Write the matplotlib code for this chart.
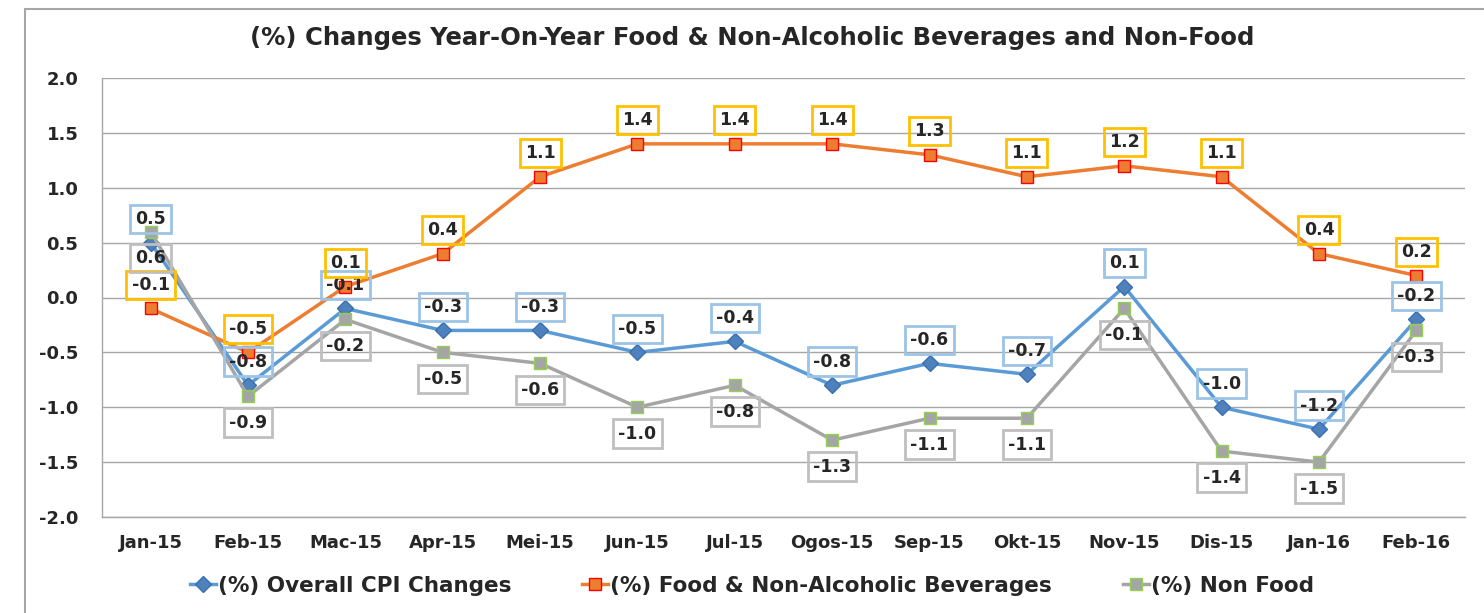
import matplotlib.pyplot as plt
from matplotlib.patches import Rectangle

plt.rcParams['font.family'] = ['DejaVu Sans']

months = ["Jan-15", "Feb-15", "Mac-15", "Apr-15", "Mei-15", "Jun-15", "Jul-15",
          "Ogos-15", "Sep-15", "Okt-15", "Nov-15", "Dis-15", "Jan-16", "Feb-16"]
overall = [0.5, -0.8, -0.1, -0.3, -0.3, -0.5, -0.4, -0.8, -0.6, -0.7, 0.1, -1.0, -1.2, -0.2]
food = [-0.1, -0.5, 0.1, 0.4, 1.1, 1.4, 1.4, 1.4, 1.3, 1.1, 1.2, 1.1, 0.4, 0.2]
non_food = [0.6, -0.9, -0.2, -0.5, -0.6, -1.0, -0.8, -1.3, -1.1, -1.1, -0.1, -1.4, -1.5, -0.3]
yticks = [-2.0, -1.5, -1.0, -0.5, 0.0, 0.5, 1.0, 1.5, 2.0]

fig = plt.figure(figsize=(14.84, 6.13), dpi=100)
ax = fig.add_axes([102 / 1484, 1 - 517 / 613, 1363 / 1484, 439 / 613])

# outer chart border (only top and left edges fall inside the picture)
fig.patches.append(Rectangle((25 / 1484, -0.1), 1.2, 1.1 - 9 / 613,
                             transform=fig.transFigure, fill=False,
                             edgecolor="#A6A6A6", linewidth=1.5))

x = list(range(len(months)))

ax.plot(x, overall, color="#5B9BD5", linewidth=2.5, marker="D", markersize=8,
        markerfacecolor="#4F81BD", markeredgecolor="#3A6FAF", zorder=3,
        label="(%) Overall CPI Changes")
ax.plot(x, food, color="#ED7D31", linewidth=2.5, marker="s", markersize=9,
        markerfacecolor="#ED7D31", markeredgecolor="#FF0000", zorder=3,
        label="(%) Food & Non-Alcoholic Beverages")
ax.plot(x, non_food, color="#A5A5A5", linewidth=2.5, marker="s", markersize=9,
        markerfacecolor="#A5A5A5", markeredgecolor="#92D050", zorder=4,
        label="(%) Non Food")


def add_labels(values, edge, dy):
    for i, v in enumerate(values):
        ax.annotate(f"{v:.1f}", (i, v), textcoords="offset points", xytext=(0, dy),
                    ha="center", va="center", fontsize=12.5, fontweight="bold",
                    color="#262626", zorder=6,
                    bbox=dict(boxstyle="square,pad=0.3", fc="none", ec=edge, lw=2))


add_labels(overall, "#9DC3E6", 17)
add_labels(food, "#FFC000", 17)
add_labels(non_food, "#BFBFBF", -19)

ax.set_xlim(-0.5, len(months) - 0.5)
ax.set_ylim(-2.0, 2.0)
ax.set_yticks(yticks)
ax.set_yticklabels([f"{t:.1f}" for t in yticks])
ax.set_xticks(x)
ax.set_xticklabels(months)
ax.grid(axis="y", color="#A6A6A6", linewidth=1)
ax.set_axisbelow(True)
for side in ["top", "right"]:
    ax.spines[side].set_visible(False)
for side in ["left", "bottom"]:
    ax.spines[side].set_color("#A6A6A6")
    ax.spines[side].set_linewidth(1)
ax.tick_params(axis="both", length=0, labelsize=13, colors="#262626")
ax.tick_params(axis="y", pad=17)
ax.tick_params(axis="x", pad=12)
for lab in ax.get_xticklabels() + ax.get_yticklabels():
    lab.set_fontweight("bold")

fig.text(752 / 1484, 1 - 38 / 613,
         "(%) Changes Year-On-Year Food & Non-Alcoholic Beverages and Non-Food",
         ha="center", va="center", fontsize=17.5, fontweight="bold", color="#262626")

leg = fig.legend(loc="center", bbox_to_anchor=(752 / 1484, 1 - 586 / 613), ncol=3,
                 frameon=False, handlelength=1.2, handletextpad=0.1, columnspacing=3.3,
                 prop=dict(size=15.5, weight="bold"))
for t in leg.get_texts():
    t.set_color("#262626")

fig.savefig("out.png", dpi=100)
